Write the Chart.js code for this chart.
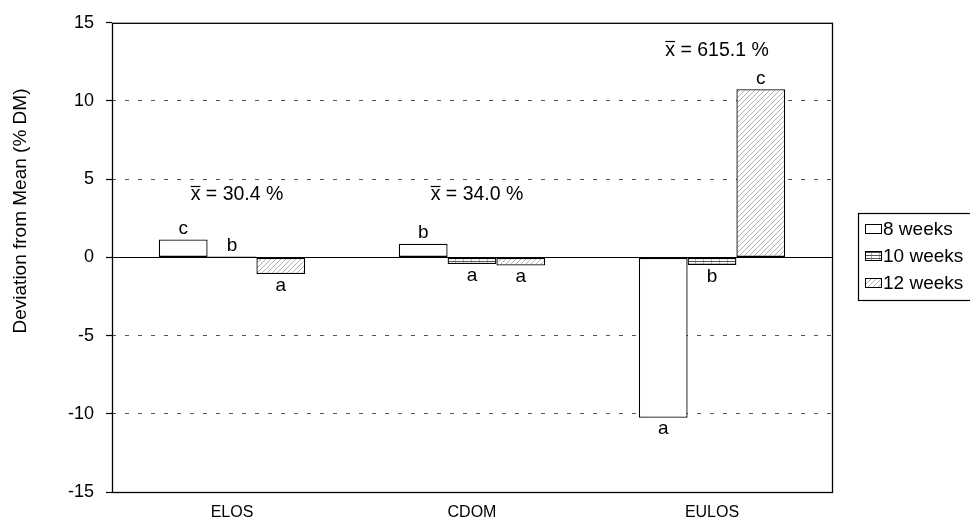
<!DOCTYPE html>
<html>
<head>
<meta charset="utf-8">
<script src="https://cdn.jsdelivr.net/npm/chart.js@4.4.1/dist/chart.umd.min.js"></script>
<style>
  html, body { margin: 0; padding: 0; background: #fff; }
  #wrap { width: 970px; height: 526px; position: relative; }
</style>
</head>
<body>
<div id="wrap"><canvas id="c" width="970" height="526"></canvas></div>
<script>
// Deviation of dry matter from the overall mean, by harvest age
const categories = ['ELOS', 'CDOM', 'EULOS'];
const seriesNames = ['8 weeks', '10 weeks', '12 weeks'];
const weeks8 = [1.15, 0.88, -10.25];
const weeks10 = [0.05, -0.42, -0.48];
const weeks12 = [-1.06, -0.52, 10.75];
// Significance letters per series (ELOS, CDOM, EULOS)
const letters8 = ['c', 'b', 'a'];
const letters10 = ['b', 'a', 'b'];
const letters12 = ['a', 'a', 'c'];
// Mean of each measure
const meanValues = ['30.4', '34.0', '615.1'];
const yTicks = [15, 10, 5, 0, -5, -10, -15];
const yTitle = 'Deviation from Mean (% DM)';

const FONT = '"Liberation Sans", Arial, sans-serif';

function makePattern(kind) {
  const c = document.createElement('canvas');
  const ctx = c.getContext('2d');
  if (kind === 'hlines') {
    c.width = 8; c.height = 3;
    ctx.fillStyle = '#ffffff';
    ctx.fillRect(0, 0, 8, 3);
    ctx.fillStyle = '#555555';
    ctx.fillRect(0, 0, 8, 1);
    ctx.fillStyle = '#b0b0b0';
    ctx.fillRect(7, 1, 1, 2);
  } else {
    c.width = 5; c.height = 5;
    ctx.fillStyle = '#ffffff';
    ctx.fillRect(0, 0, 5, 5);
    ctx.strokeStyle = '#a8a8a8';
    ctx.lineWidth = 0.9;
    ctx.beginPath();
    ctx.moveTo(-1, 6); ctx.lineTo(6, -1);
    ctx.moveTo(-3.5, 3.5); ctx.lineTo(3.5, -3.5);
    ctx.moveTo(1.5, 8.5); ctx.lineTo(8.5, 1.5);
    ctx.stroke();
  }
  return document.createElement('canvas').getContext('2d').createPattern(c, 'repeat');
}

const fills = ['#ffffff', makePattern('hlines'), makePattern('diag')];
const seriesData = [weeks8, weeks10, weeks12];
const seriesLetters = [letters8, letters10, letters12];

const PLOT = { left: 112, right: 832, top: 21, bottom: 492 };

// Frame, zero line, axis title, letters, means and legend
const decorations = {
  id: 'decorations',
  beforeDatasetsDraw(chart) {
    const { ctx, chartArea: a, scales: { y } } = chart;
    ctx.save();
    ctx.strokeStyle = '#000';
    ctx.lineWidth = 1.2;
    const y0 = Math.round(y.getPixelForValue(0)) + 0.5;
    ctx.beginPath();
    ctx.moveTo(a.left, y0);
    ctx.lineTo(a.right, y0);
    ctx.stroke();
    ctx.restore();
  },
  afterDatasetsDraw(chart) {
    const { ctx, chartArea: a, scales: { x, y } } = chart;
    ctx.save();
    // plot frame
    ctx.strokeStyle = '#000';
    ctx.lineWidth = 1.3;
    ctx.strokeRect(a.left + 0.5, a.top + 0.5, a.right - a.left, a.bottom - a.top);

    // y axis title
    ctx.save();
    ctx.translate(21, 211);
    ctx.rotate(-Math.PI / 2);
    ctx.font = '19px ' + FONT;
    ctx.fillStyle = '#000';
    ctx.textAlign = 'center';
    ctx.textBaseline = 'middle';
    ctx.fillText(yTitle, 0, 0);
    ctx.restore();

    // significance letters
    ctx.fillStyle = '#000';
    ctx.font = '19px ' + FONT;
    ctx.textAlign = 'center';
    chart.data.datasets.forEach((ds, di) => {
      const meta = chart.getDatasetMeta(di);
      meta.data.forEach((bar, i) => {
        const v = ds.data[i];
        const letter = seriesLetters[di][i];
        if (v >= 0) {
          ctx.textBaseline = 'bottom';
          ctx.fillText(letter, bar.x, bar.y - 1);
        } else {
          ctx.textBaseline = 'top';
          ctx.fillText(letter, bar.x, bar.y + 2);
        }
      });
    });

    // mean annotations
    const meanY = [4.0, 4.0, 13.25];
    ctx.font = '19.5px ' + FONT;
    ctx.textBaseline = 'middle';
    ctx.textAlign = 'left';
    categories.forEach((cat, i) => {
      const rest = ' = ' + meanValues[i] + ' %';
      const wx = ctx.measureText('x').width;
      const total = wx + ctx.measureText(rest).width;
      const cx = x.getPixelForValue(i) + 5;
      const cy = y.getPixelForValue(meanY[i]);
      const sx = cx - total / 2;
      ctx.fillText('x', sx, cy);
      ctx.fillText(rest, sx + wx, cy);
      ctx.lineWidth = 1.2;
      ctx.beginPath();
      ctx.moveTo(sx, Math.round(cy - 9) + 0.5);
      ctx.lineTo(sx + wx, Math.round(cy - 9) + 0.5);
      ctx.stroke();
    });

    // legend
    const lx = 858, ly = 213, lw = 130, lh = 87;
    ctx.lineWidth = 1.2;
    ctx.strokeStyle = '#000';
    ctx.strokeRect(lx + 0.5, ly + 0.5, lw, lh);
    ctx.font = '19px ' + FONT;
    ctx.textBaseline = 'middle';
    ctx.textAlign = 'left';
    chart.data.datasets.forEach((ds, di) => {
      const iy = ly + 16 + di * 27;
      ctx.fillStyle = fills[di];
      ctx.fillRect(865, iy - 5, 16, 9);
      ctx.lineWidth = 1;
      ctx.strokeRect(865.5, iy - 5 + 0.5, 16, 9);
      ctx.fillStyle = '#000';
      ctx.fillText(ds.label, 883, iy + 1);
    });
    ctx.restore();
  }
};

new Chart(document.getElementById('c'), {
  type: 'bar',
  data: {
    labels: categories,
    datasets: seriesNames.map((name, i) => ({
      label: name,
      data: seriesData[i],
      backgroundColor: fills[i],
      borderColor: '#000',
      borderWidth: 1.3,
      borderSkipped: false,
      categoryPercentage: 0.61,
      barPercentage: 1.0
    }))
  },
  options: {
    responsive: false,
    animation: false,
    devicePixelRatio: 1,
    layout: { padding: { left: 0, right: 970 - PLOT.right, top: PLOT.top, bottom: 0 } },
    plugins: { legend: { display: false }, tooltip: { enabled: false } },
    scales: {
      x: {
        grid: { display: false },
        border: { display: false },
        ticks: { color: '#000', font: { family: FONT, size: 16 }, padding: 3 },
        afterFit(s) { s.height = 526 - PLOT.bottom; }
      },
      y: {
        min: -15, max: 15,
        afterBuildTicks(s) { s.ticks = yTicks.map(v => ({ value: v })); },
        grid: {
          color: c => (Math.abs(c.tick.value) === 15 || c.tick.value === 0) ? 'rgba(0,0,0,0)' : '#555',
          lineWidth: 1,
          drawTicks: true,
          tickLength: 6,
          tickColor: '#000',
          tickBorderDash: [],
          tickWidth: 1.2
        },
        border: { display: false, dash: [4, 9] },
        ticks: { color: '#000', font: { family: FONT, size: 18 }, padding: 12 },
        title: { display: false },
        afterFit(s) { s.width = PLOT.left; }
      }
    }
  },
  plugins: [decorations]
});
</script>
</body>
</html>
